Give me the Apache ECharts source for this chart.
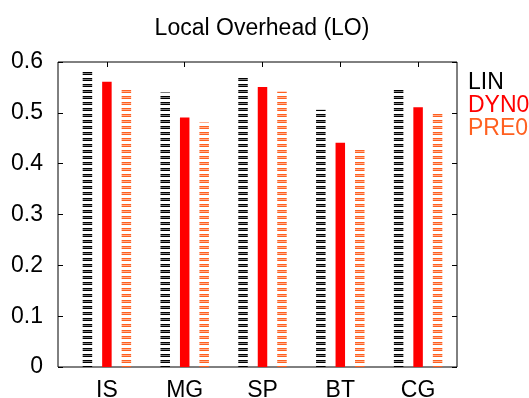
<!DOCTYPE html>
<html>
<head>
<meta charset="utf-8">
<script src="https://cdn.jsdelivr.net/npm/echarts@6/dist/echarts.min.js"></script>
<style>html,body{margin:0;padding:0;background:#fff;}#c{width:529px;height:398px;}</style>
</head>
<body>
<div id="c"></div>
<script>
var categories = ['IS', 'MG', 'SP', 'BT', 'CG'];
var seriesNames = ['LIN', 'DYN0', 'PRE0'];
var LIN = [0.582, 0.540, 0.572, 0.506, 0.548];
var DYN0 = [0.561, 0.491, 0.551, 0.441, 0.511];
var PRE0 = [0.549, 0.481, 0.542, 0.431, 0.502];
var yTicks = [0, 0.1, 0.2, 0.3, 0.4, 0.5, 0.6];

var FONT = 'Liberation Sans, Arial, Helvetica, sans-serif';
var C_LIN = '#000000', C_DYN = '#ff0000', C_PRE = '#ff6020';

function stripes(color) {
  var cv = document.createElement('canvas');
  cv.width = 4; cv.height = 6;
  var ctx = cv.getContext('2d');
  ctx.fillStyle = '#ffffff';
  ctx.fillRect(0, 0, 4, 6);
  ctx.fillStyle = color;
  ctx.fillRect(0, 0, 4, 1);
  ctx.fillRect(0, 2, 4, 1);
  ctx.globalAlpha = 0.5;
  ctx.fillRect(0, 1, 4, 1);
  return cv;
}

var chart = echarts.init(document.getElementById('c'), null, {renderer: 'canvas'});
var option = {
  animation: false,
  backgroundColor: '#fff',
  title: {
    text: 'Local Overhead (LO)',
    left: 257, top: 12, textAlign: 'center',
    textStyle: {fontFamily: FONT, fontSize: 23, fontWeight: 'normal', color: '#000'}
  },
  legend: {
    orient: 'vertical', left: 458, top: 66, itemWidth: 0, itemHeight: 0, itemGap: 0,
    selectedMode: false, icon: 'rect',
    itemStyle: {opacity: 0},
    textStyle: {fontFamily: FONT, fontSize: 23, lineHeight: 23},
    data: [
      {name: seriesNames[0], textStyle: {color: C_LIN}},
      {name: seriesNames[1], textStyle: {color: C_DYN}},
      {name: seriesNames[2], textStyle: {color: C_PRE}}
    ]
  },
  grid: [
    {left: 58, right: 72, top: 62, bottom: 31, outerBoundsMode: 'none', containLabel: false,
     show: true, borderColor: '#000', borderWidth: 1, backgroundColor: 'transparent'},
    {left: 68, right: 72, top: 62, bottom: 31, outerBoundsMode: 'none', containLabel: false}
  ],
  xAxis: [
    {gridIndex: 0, type: 'value', show: false, min: 0, max: 1},
    {gridIndex: 1, type: 'category', data: categories, position: 'bottom',
     axisLine: {show: false},
     axisTick: {show: true, inside: true, alignWithLabel: true, length: 5, lineStyle: {color: '#000'}},
     axisLabel: {fontFamily: FONT, fontSize: 23, color: '#000', margin: 12},
     splitLine: {show: false}},
    {gridIndex: 1, type: 'category', data: categories, position: 'top',
     axisLine: {show: false},
     axisTick: {show: true, inside: true, alignWithLabel: true, length: 5, lineStyle: {color: '#000'}},
     axisLabel: {show: false}, splitLine: {show: false}}
  ],
  yAxis: [
    {gridIndex: 0, type: 'value', min: yTicks[0], max: yTicks[yTicks.length - 1], interval: 0.1, position: 'left',
     axisLine: {show: false},
     axisTick: {show: true, inside: true, length: 5, lineStyle: {color: '#000'}},
     axisLabel: {fontFamily: FONT, fontSize: 23, color: '#000', margin: 15,
                 formatter: function (v) { return String(Math.round(v * 10) / 10); }},
     splitLine: {show: false}},
    {gridIndex: 0, type: 'value', min: yTicks[0], max: yTicks[yTicks.length - 1], interval: 0.1, position: 'right',
     axisLine: {show: false},
     axisTick: {show: true, inside: true, length: 5, lineStyle: {color: '#000'}},
     axisLabel: {show: false}, splitLine: {show: false}},
    {gridIndex: 1, type: 'value', min: yTicks[0], max: yTicks[yTicks.length - 1], show: false, splitLine: {show: false}}
  ],
  series: [
    {name: seriesNames[0], type: 'bar', xAxisIndex: 1, yAxisIndex: 2, data: LIN, barWidth: 9.5, barGap: '105%',
     itemStyle: {color: {image: stripes(C_LIN), repeat: 'repeat'}}},
    {name: seriesNames[1], type: 'bar', xAxisIndex: 1, yAxisIndex: 2, data: DYN0, barWidth: 9.5, barGap: '105%',
     itemStyle: {color: C_DYN}},
    {name: seriesNames[2], type: 'bar', xAxisIndex: 1, yAxisIndex: 2, data: PRE0, barWidth: 9.5, barGap: '105%',
     itemStyle: {color: {image: stripes(C_PRE), repeat: 'repeat'}}}
  ]
};
chart.setOption(option);
</script>
</body>
</html>
